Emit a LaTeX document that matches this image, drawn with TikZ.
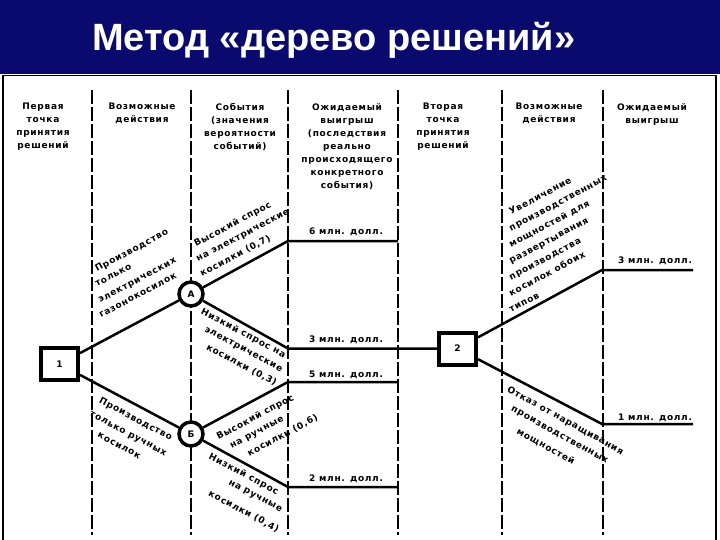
\documentclass[tikz,border=0pt]{standalone}
\usepackage{fontspec}
\setmainfont{DejaVu Sans}
\newfontfamily\titlefont{Liberation Sans}
\newfontfamily\dgfont[LetterSpace=8]{DejaVu Sans Bold}
\definecolor{navyband}{RGB}{10,10,110}
\tikzset{
  txt/.style={inner sep=0pt, font=\dgfont\fontsize{9}{13}\selectfont},
  hdr/.style={txt, align=center, anchor=north},
  val/.style={txt, anchor=base},
  colline/.style={line width=1.3pt, dash pattern=on 14pt off 3pt},
  branch/.style={line width=2.5pt},
  dbox/.style={draw, fill=white, line width=4pt, minimum width=37pt, minimum height=32pt, inner sep=0pt, font=\dgfont\fontsize{9}{11}\selectfont},
  chance/.style={circle, draw, fill=white, line width=3.5pt, minimum size=24pt, inner sep=0pt, font=\dgfont\fontsize{9}{11}\selectfont},
  up/.style={txt, rotate=28},
  dn/.style={txt, rotate=-28}
}
\begin{document}
\begin{tikzpicture}[x=1pt,y=-1pt]
\useasboundingbox (0,0) rectangle (720,540);
% title band
\fill[navyband] (0,0) rectangle (720,74);
\node[anchor=base west, inner sep=0pt, text=white, font=\titlefont\bfseries\fontsize{38}{40}\selectfont] (title) at (92,51) {Метод «дерево решений»};
% frame
\draw[line width=1.5pt] (3,540) -- (3,75.5) -- (716,75.5) -- (716,540);
% column separators
\foreach \cx in {92,191,288,398,502,603} \draw[colline] (\cx,90) -- (\cx,535);
% headers
\node[hdr] (h1) at (43,103) {Первая\\точка\\принятия\\решений};
\node[hdr] (h2) at (142,103) {Возможные\\действия};
\node[hdr] (h3) at (240,103) {События\\(значения\\вероятности\\событий)};
\node[hdr] (h4) at (347,103) {Ожидаемый\\выигрыш\\(последствия\\реально\\происходящего\\конкретного\\события)};
\node[hdr] (h5) at (443,103) {Вторая\\точка\\принятия\\решений};
\node[hdr] (h6) at (549,103) {Возможные\\действия};
\node[hdr] (h7) at (652,103) {Ожидаемый\\выигрыш};
% decision and chance nodes
\node[dbox] (b1) at (59.5,364) {1};
\node[dbox] (b2) at (457.5,348.5) {2};
\node[chance] (A) at (191,294) {А};
\node[chance] (B) at (191,434) {Б};
% branch end points
\coordinate (a1) at (288,241); \coordinate (a1e) at (398,241);
\coordinate (a2) at (288,348.5);
\coordinate (c1) at (288,382); \coordinate (c1e) at (398,382);
\coordinate (c2) at (288,487); \coordinate (c2e) at (398,487);
\coordinate (d1) at (602,270); \coordinate (d1e) at (693,270);
\coordinate (d2) at (602,424); \coordinate (d2e) at (693,424);
% branches
\draw[branch] (b1) -- (A);
\draw[branch] (b1) -- (B);
\draw[branch] (A) -- (a1) -- (a1e);
\draw[branch] (A) -- (a2) -- (b2);
\draw[branch] (B) -- (c1) -- (c1e);
\draw[branch] (B) -- (c2) -- (c2e);
\draw[branch] (b2) -- (d1) -- (d1e);
\draw[branch] (b2) -- (d2) -- (d2e);
% values
\node[val] (v1) at (346,235) {6 млн. долл.};
\node[val] (v2) at (346,342) {3 млн. долл.};
\node[val] (v3) at (346,377) {5 млн. долл.};
\node[val] (v4) at (346,481) {2 млн. долл.};
\node[val] (v5) at (655,263) {3 млн. долл.};
\node[val] (v6) at (655,420) {1 млн. долл.};
% block 1
\node[up, anchor=base west] (p1) at (97,272) {Производство};
\node[up, anchor=base west] (p2) at (97,287) {только};
\node[up, anchor=base west] (p3) at (100,303) {электрических};
\node[up, anchor=base west] (p4) at (101,318) {газонокосилок};
% block 2
\node[up, anchor=base west] (q1) at (196,247) {Высокий спрос};
\node[up, anchor=base west] (q2) at (198,262) {на электрические};
\node[up, anchor=base west] (q3) at (202,277) {косилки (0,7)};
% block 3
\node[dn, anchor=base east] (r1) at (284,358) {Низкий спрос на};
\node[dn, anchor=base east] (r2) at (281,372) {электрические};
\node[dn, anchor=base east] (r3) at (275,386) {косилки (0,3)};
% block 4
\node[dn, anchor=base] (s1) at (134.5,421.5) {Производство};
\node[dn, anchor=base] (s2) at (127,436) {только ручных};
\node[dn, anchor=base] (s3) at (118,448) {косилок};
% block 5
\node[up, anchor=base] (t1) at (256.6,419.7) {Высокий спрос};
\node[up, anchor=base] (t2) at (258,434.5) {на ручные};
\node[up, anchor=base] (t3) at (284,438) {косилки (0,6)};
% block 6
\node[dn, anchor=base] (u1) at (242.4,476.6) {Низкий спрос};
\node[dn, anchor=base] (u2) at (254.4,498) {на ручные};
\node[dn, anchor=base] (u3) at (242.4,514) {косилки (0,4)};
% block 7
\node[up, anchor=base west] (w1) at (511,215) {Увеличение};
\node[up, anchor=base west] (w2) at (511,231.3) {производственных};
\node[up, anchor=base west] (w3) at (511,247.6) {мощностей для};
\node[up, anchor=base west] (w4) at (511,263.9) {развертывания};
\node[up, anchor=base west] (w5) at (511,280.2) {производства};
\node[up, anchor=base west] (w6) at (511,296.5) {косилок обоих};
\node[up, anchor=base west] (w7) at (511,312.8) {типов};
% block 8
\node[txt, rotate=-29, anchor=base] (x1) at (564,423) {Отказ от наращивания};
\node[txt, rotate=-29, anchor=base] (x2) at (558.4,437) {производственных};
\node[txt, rotate=-29, anchor=base] (x3) at (544.4,449) {мощностей};
\end{tikzpicture}
\end{document}
